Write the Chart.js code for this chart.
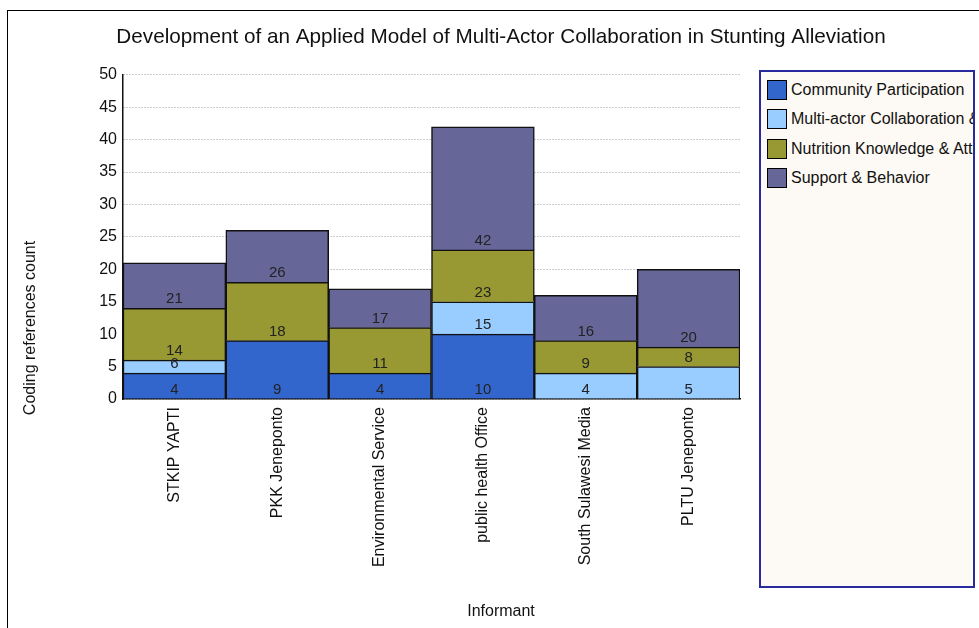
<!DOCTYPE html>
<html>
<head>
<meta charset="utf-8">
<script src="https://cdn.jsdelivr.net/npm/chart.js@4/dist/chart.umd.min.js"></script>
<style>
  html, body { margin: 0; padding: 0; background: #fff; }
  #wrap { position: relative; width: 979px; height: 628px; }
  #frame { position: absolute; left: 7px; top: 10px; width: 990px; height: 640px;
           border-top: 1.5px solid #000; border-left: 1.5px solid #000; pointer-events: none; }
  #legend { position: absolute; left: 759px; top: 70px; width: 212px; height: 514px;
            background: #fdf9f4; border: 2px solid #2a2a9f; overflow: hidden;
            font-family: "Liberation Sans", Arial, sans-serif; font-size: 16px; color: #111; }
  #legend .item { display: flex; align-items: center; white-space: nowrap; height: 29.5px; margin-left: 6px; }
  #legend .sw { width: 20px; height: 20px; border: 1.5px solid #000; box-sizing: border-box; margin-right: 4px; flex: none; }
</style>
</head>
<body>
<div id="wrap">
  <canvas id="chart" width="979" height="628"></canvas>
  <div id="frame"></div>
  <div id="legend"></div>
</div>
<script>
const informants = ['STKIP YAPTI', 'PKK Jeneponto', 'Environmental Service', 'public health Office', 'South Sulawesi Media', 'PLTU Jeneponto'];
const communityParticipation = [4, 9, 4, 10, 0, 0];
const multiActorCollaboration = [2, 0, 0, 5, 4, 5];
const nutritionKnowledge = [8, 9, 7, 8, 5, 3];
const supportBehavior = [7, 8, 6, 19, 7, 12];
const yTicks = [0, 5, 10, 15, 20, 25, 30, 35, 40, 45, 50];

const font = '"Liberation Sans", Arial, sans-serif';

// cumulative totals written just above the base of each segment
const stackLabels = {
  id: 'stackLabels',
  afterDatasetsDraw(chart) {
    const ctx = chart.ctx;
    ctx.save();
    ctx.font = '15px ' + font;
    ctx.fillStyle = '#222';
    ctx.textAlign = 'center';
    ctx.textBaseline = 'middle';
    const totals = informants.map(() => 0);
    chart.data.datasets.forEach((ds, i) => {
      const meta = chart.getDatasetMeta(i);
      ds.data.forEach((v, j) => {
        totals[j] += v;
        if (!v) return;
        const bar = meta.data[j];
        ctx.fillText(String(totals[j]), bar.x, bar.base - 9);
      });
    });
    ctx.restore();
  }
};

// axis titles are placed on the whole figure, not centred on the plot
const axisTitles = {
  id: 'axisTitles',
  afterDraw(chart) {
    const ctx = chart.ctx;
    ctx.save();
    ctx.font = '16px ' + font;
    ctx.fillStyle = '#111';
    ctx.textAlign = 'center';
    ctx.textBaseline = 'middle';
    ctx.fillText('Informant', 501, 612);
    ctx.translate(31, 328);
    ctx.rotate(-Math.PI / 2);
    ctx.fillText('Coding references count', 0, 0);
    ctx.restore();
  }
};

const mk = (label, data, color) => ({
  label, data, backgroundColor: color, borderColor: '#111', borderWidth: 1.5,
  categoryPercentage: 1, barPercentage: 1
});

const chart = new Chart(document.getElementById('chart').getContext('2d'), {
  type: 'bar',
  data: {
    labels: informants,
    datasets: [
      mk('Community Participation', communityParticipation, '#3366cc'),
      mk('Multi-actor Collaboration & Coordination', multiActorCollaboration, '#99ccff'),
      mk('Nutrition Knowledge & Attitude', nutritionKnowledge, '#999933'),
      mk('Support & Behavior', supportBehavior, '#666699')
    ]
  },
  options: {
    responsive: false,
    animation: false,
    layout: { padding: { left: 23, right: 0, top: 0, bottom: 0 } },
    plugins: {
      legend: { display: false },
      tooltip: { enabled: false },
      title: {
        display: true,
        text: 'Development of an Applied Model of Multi-Actor Collaboration in Stunting Alleviation',
        color: '#111',
        font: { family: font, size: 20.7, weight: 'normal' },
        padding: { top: 25, bottom: 25 }
      }
    },
    scales: {
      x: {
        stacked: true,
        grid: { display: false, drawTicks: false },
        border: { color: '#111', width: 1.5 },
        ticks: { minRotation: 90, maxRotation: 90, padding: 8, color: '#111', font: { family: font, size: 16 } },
        afterFit(s) { s.height = 229; }
      },
      y: {
        stacked: true,
        min: 0,
        max: 50,
        afterBuildTicks(s) { s.ticks = yTicks.map(v => ({ value: v })); },
        grid: { color: '#999', drawTicks: false },
        border: { color: '#111', width: 1.5, dash: [1, 2] },
        ticks: { padding: 6, color: '#111', font: { family: font, size: 16 } },
        afterFit(s) { s.width = 100; }
      },
      // empty right axis reserves the space the legend box sits in
      side: {
        type: 'linear',
        position: 'right',
        grid: { display: false, drawTicks: false },
        border: { display: false },
        ticks: { display: false },
        afterFit(s) { s.width = 239; }
      }
    }
  },
  plugins: [stackLabels, axisTitles]
});

const legendEl = document.getElementById('legend');
legendEl.innerHTML = '<div style="height:3px"></div>' + chart.data.datasets.map(ds =>
  `<div class="item"><span class="sw" style="background:${ds.backgroundColor}"></span><span>${ds.label}</span></div>`
).join('');
</script>
</body>
</html>
